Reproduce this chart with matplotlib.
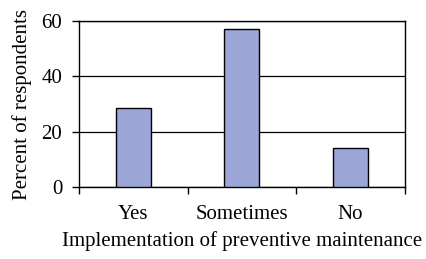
import matplotlib
matplotlib.use("Agg")
import matplotlib.pyplot as plt
import numpy as np

categories = ["Yes", "Sometimes", "No"]
values = [28.7, 57.0, 14.2]
yticks = [0, 20, 40, 60]

plt.rcParams['font.family'] = ['Liberation Serif', 'DejaVu Serif']

fig = plt.figure(figsize=(4.27, 2.59), dpi=100)
ax = fig.add_axes([79/427, 1-187/259, (404.7-79)/427, 166/259])

x = np.arange(len(categories))
ax.bar(x, values, width=0.32, color="#9ba6d6", edgecolor="black", linewidth=1.0, zorder=3)
ax.set_xlim(-0.5, 2.5)
ax.set_ylim(0, 60)
ax.set_yticks(yticks)
ax.set_yticklabels([str(t) for t in yticks], fontsize=15)
ax.yaxis.grid(True, color="black", linewidth=0.9, zorder=0)
ax.set_xticks(x)
ax.set_xticklabels(categories, fontsize=15)
ax.tick_params(axis='x', length=0, pad=13)
ax.set_xticks([-0.5, 0.5, 1.5, 2.5], minor=True)
ax.tick_params(axis='x', which='minor', length=5, width=1, direction='out')
ax.tick_params(axis='y', length=5, width=1, direction='out', pad=7)
for s in ax.spines.values():
    s.set_linewidth(1.0)
ax.set_ylabel("Percent of respondents", fontsize=15, labelpad=7)
ax.set_xlabel("Implementation of preventive maintenance", fontsize=15, labelpad=5)

fig.savefig("out.png", dpi=100)
